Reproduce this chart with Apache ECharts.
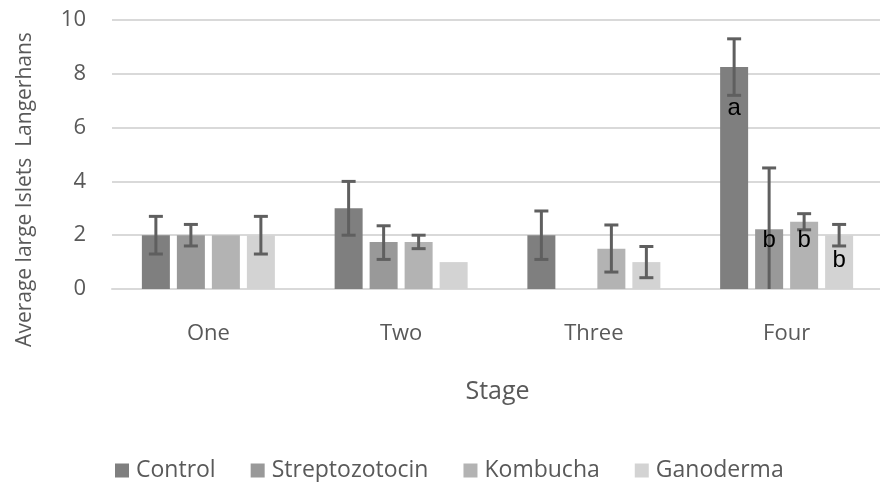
<!DOCTYPE html>
<html>
<head>
<meta charset="utf-8">
<script src="https://cdn.jsdelivr.net/npm/echarts@6/dist/echarts.min.js"></script>
<style>
  html, body { margin: 0; padding: 0; background: #fff; }
  #chart { width: 880px; height: 482px; }
</style>
</head>
<body>
<div id="chart"></div>
<script>
// stages on the x axis
let stages = ['One', 'Two', 'Three', 'Four'];
let seriesNames = ['Control', 'Streptozotocin', 'Kombucha', 'Ganoderma'];
let colors = ['#7f7f7f', '#999999', '#b3b3b3', '#d3d3d3'];

// mean values per stage ('-' = no bar)
let control = [2, 3, 2, 8.25];
let strepto = [2, 1.75, '-', 2.22];
let kombucha = [2, 1.75, 1.5, 2.5];
let ganoderma = [2, 1, 1, 2];

// error bar ranges [low, high], null = no error bar
let controlErr = [[1.3, 2.7], [2, 4], [1.1, 2.9], [7.2, 9.3]];
let streptoErr = [[1.6, 2.4], [1.1, 2.35], null, [0, 4.5]];
let kombuchaErr = [null, [1.5, 2.0], [0.63, 2.38], [2.2, 2.8]];
let ganodermaErr = [[1.3, 2.7], null, [0.42, 1.58], [1.6, 2.4]];

// significance letters and the value they sit at
let controlSig = [null, null, null, ['a', 6.7]];
let streptoSig = [null, null, null, ['b', 1.8]];
let kombuchaSig = [null, null, null, ['b', 1.8]];
let ganodermaSig = [null, null, null, ['b', 1.05]];

let values = [control, strepto, kombucha, ganoderma];
let errs = [controlErr, streptoErr, kombuchaErr, ganodermaErr];
let sigs = [controlSig, streptoSig, kombuchaSig, ganodermaSig];

let font = 'Open Sans';
let textColor = '#595959';
let catGap = 0.31;
let barGapRatio = 0.25;

let myChart = echarts.init(document.getElementById('chart'));

function makeOverlay(idx) {
  let data = [];
  for (let i = 0; i < stages.length; i++) {
    let e = errs[idx][i];
    let s = sigs[idx][i];
    if (!e && !s) continue;
    data.push([i, e ? e[0] : NaN, e ? e[1] : NaN, s ? s[1] : NaN, s ? s[0] : '']);
  }
  return {
    type: 'custom',
    name: seriesNames[idx] + ' err',
    silent: true,
    z: 5,
    data: data,
    renderItem: function (params, api) {
      let cat = api.value(0);
      let bandW = api.size([1, 0])[0];
      let groupW = bandW * (1 - catGap);
      let n = seriesNames.length;
      let barW = groupW / (n + (n - 1) * barGapRatio);
      let offset = (idx - (n - 1) / 2) * barW * (1 + barGapRatio);
      let children = [];
      let lo = api.value(1), hi = api.value(2);
      if (!isNaN(lo)) {
        let pLo = api.coord([cat, lo]);
        let pHi = api.coord([cat, hi]);
        let x = pLo[0] + offset;
        let cap = 7;
        let st = { stroke: '#5f5f5f', lineWidth: 3 };
        children.push({ type: 'line', shape: { x1: x, y1: pLo[1], x2: x, y2: pHi[1] }, style: st });
        children.push({ type: 'line', shape: { x1: x - cap, y1: pHi[1], x2: x + cap, y2: pHi[1] }, style: st });
        if (lo > 0) {
          children.push({ type: 'line', shape: { x1: x - cap, y1: pLo[1], x2: x + cap, y2: pLo[1] }, style: st });
        }
      }
      let sy = api.value(3);
      if (!isNaN(sy)) {
        let p = api.coord([cat, sy]);
        children.push({
          type: 'text',
          x: p[0] + offset,
          y: p[1],
          style: {
            text: api.value(4),
            fill: '#000',
            font: '24px "Liberation Sans"',
            align: 'center',
            verticalAlign: 'middle'
          }
        });
      }
      return { type: 'group', children: children };
    }
  };
}

let series = [];
for (let i = 0; i < seriesNames.length; i++) {
  series.push({
    name: seriesNames[i],
    type: 'bar',
    data: values[i],
    barGap: (barGapRatio * 100) + '%',
    barCategoryGap: (catGap * 100) + '%',
    itemStyle: { color: colors[i] },
    emphasis: { disabled: true }
  });
}
for (let i = 0; i < seriesNames.length; i++) {
  series.push(makeOverlay(i));
}

let option = {
  backgroundColor: '#fff',
  animation: false,
  textStyle: { fontFamily: font },
  grid: { left: 112, right: -3, top: 20, bottom: 193, containLabel: false, outerBoundsMode: 'none' },
  legend: {
    data: seriesNames,
    bottom: -5,
    left: 110,
    itemWidth: 14,
    itemHeight: 14,
    itemGap: 35,
    icon: 'rect',
    textStyle: { fontFamily: font, fontSize: 23, color: textColor, padding: [0, 0, 0, 2] }
  },
  xAxis: {
    type: 'category',
    data: stages,
    name: 'Stage',
    nameLocation: 'middle',
    nameGap: 90,
    nameTextStyle: { fontFamily: font, fontSize: 25, color: textColor },
    axisLine: { lineStyle: { color: '#d9d9d9', width: 2 } },
    axisTick: { show: false },
    axisLabel: { fontFamily: font, fontSize: 22, color: textColor, margin: 34 }
  },
  yAxis: {
    type: 'value',
    min: 0,
    max: 10,
    interval: 2,
    name: 'Average large Islets  Langerhans',
    nameLocation: 'middle',
    nameGap: 76,
    nameTextStyle: { fontFamily: font, fontSize: 21, color: textColor, padding: [0, 70, 0, 0] },
    axisLine: { show: false },
    axisTick: { show: false },
    axisLabel: { fontFamily: font, fontSize: 22, color: textColor, margin: 26 },
    splitLine: { lineStyle: { color: '#d9d9d9', width: 2 } }
  },
  series: series
};
myChart.setOption(option);
</script>
</body>
</html>
